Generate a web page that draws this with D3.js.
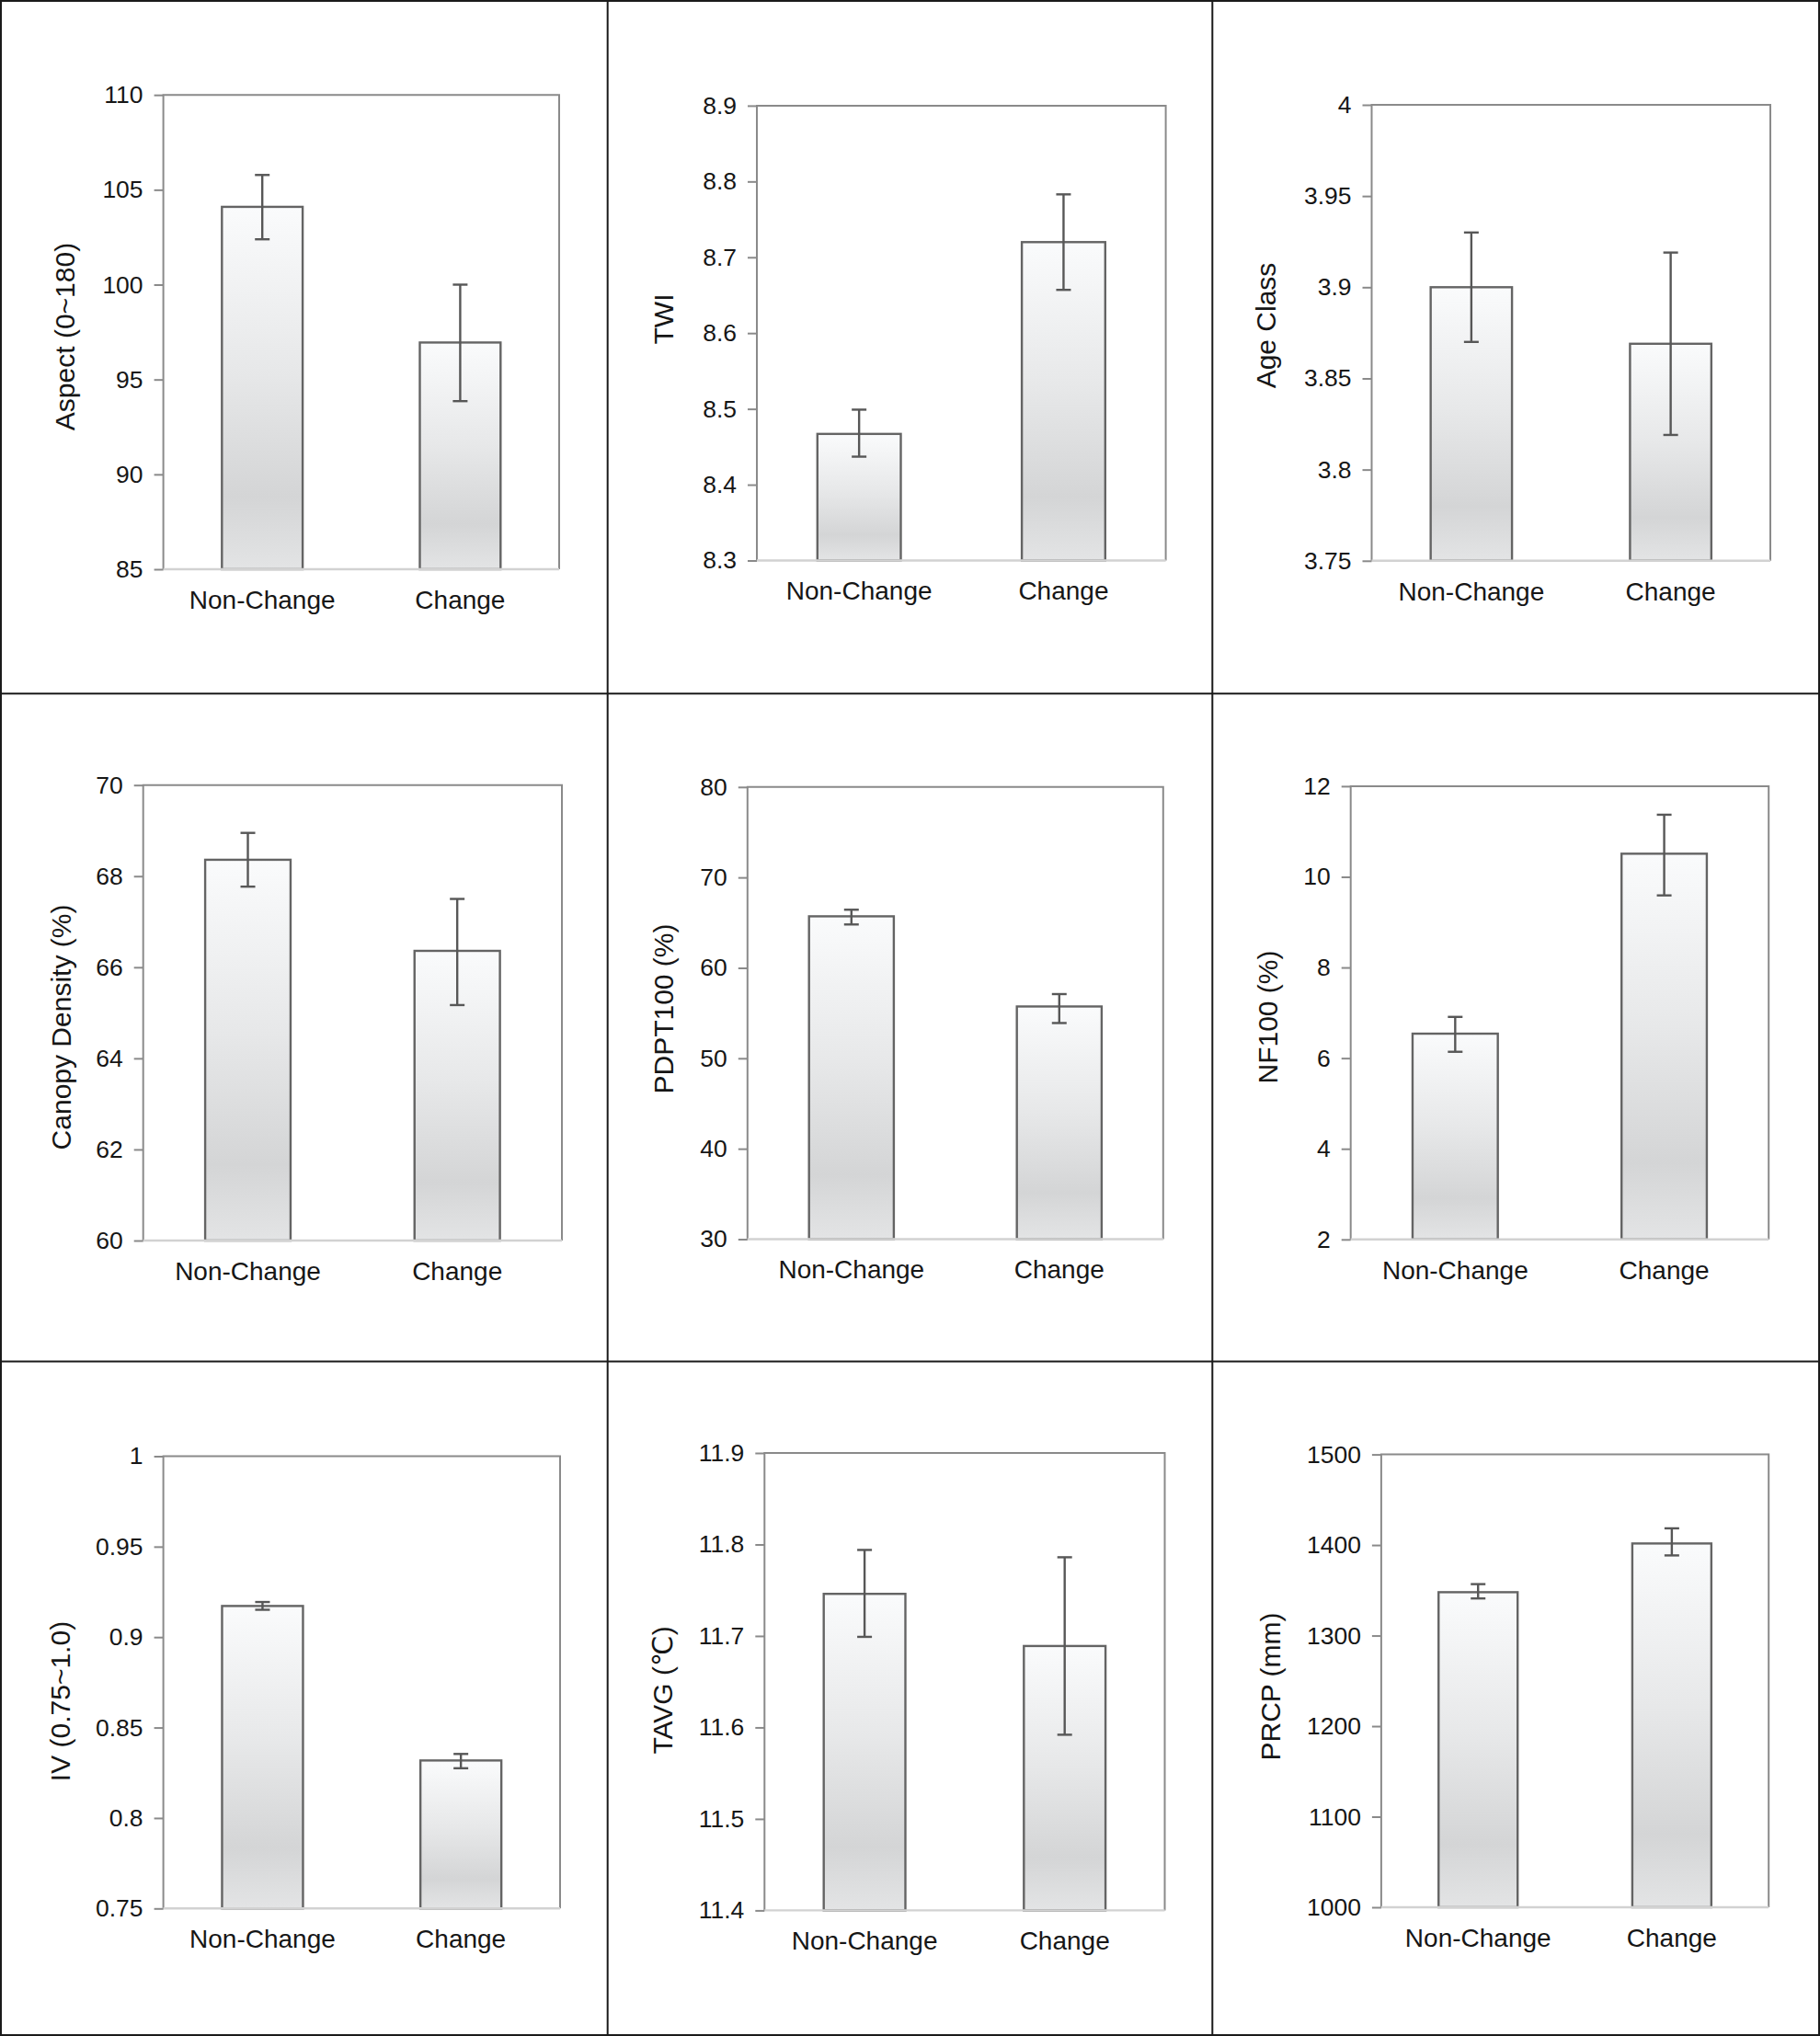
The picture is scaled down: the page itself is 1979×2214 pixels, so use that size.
<!DOCTYPE html>
<html>
<head>
<meta charset="utf-8">
<script src="https://cdn.jsdelivr.net/npm/d3@7"></script>
<style>
  html, body { margin: 0; padding: 0; background: #fff; }
  svg { display: block; }
  text { font-family: "Liberation Sans", Arial, "DejaVu Sans", sans-serif; fill: #161616; }
</style>
</head>
<body>
<svg id="chart" width="1979" height="2214"></svg>
<script>
// ---------------- DATA ----------------
const categories = ["Non-Change", "Change"];

const yTitles = [
  "Aspect (0~180)", "TWI", "Age Class",
  "Canopy Density (%)", "PDPT100 (%)", "NF100 (%)",
  "IV (0.75~1.0)", "TAVG (\u2103)", "PRCP (mm)"
];

// mean values [Non-Change, Change]
const means = [
  [104.1, 96.95],
  [8.467, 8.72],
  [3.90, 3.869],
  [68.36, 66.36],
  [65.7, 55.73],
  [6.54, 10.51],
  [0.9172, 0.8318],
  [11.746, 11.689],
  [1347.9, 1401.7]
];

// upper ends of error bars
const errHigh = [
  [105.78, 100.0],
  [8.499, 8.783],
  [3.93, 3.919],
  [68.95, 67.50],
  [66.43, 57.1],
  [6.91, 11.37],
  [0.9194, 0.8354],
  [11.794, 11.786],
  [1356.8, 1418.4]
];

// lower ends of error bars
const errLow = [
  [102.39, 93.86],
  [8.437, 8.657],
  [3.87, 3.819],
  [67.77, 65.17],
  [64.8, 53.9],
  [6.14, 9.59],
  [0.9151, 0.8275],
  [11.699, 11.592],
  [1341.0, 1388.5]
];

const yDomains = [
  [85, 110], [8.3, 8.9], [3.75, 4],
  [60, 70], [30, 80], [2, 12],
  [0.75, 1], [11.4, 11.9], [1000, 1500]
];

const yTickValues = [
  [85, 90, 95, 100, 105, 110],
  [8.3, 8.4, 8.5, 8.6, 8.7, 8.8, 8.9],
  [3.75, 3.8, 3.85, 3.9, 3.95, 4],
  [60, 62, 64, 66, 68, 70],
  [30, 40, 50, 60, 70, 80],
  [2, 4, 6, 8, 10, 12],
  [0.75, 0.8, 0.85, 0.9, 0.95, 1],
  [11.4, 11.5, 11.6, 11.7, 11.8, 11.9],
  [1000, 1100, 1200, 1300, 1400, 1500]
];

const yTickLabels = [
  ["85", "90", "95", "100", "105", "110"],
  ["8.3", "8.4", "8.5", "8.6", "8.7", "8.8", "8.9"],
  ["3.75", "3.8", "3.85", "3.9", "3.95", "4"],
  ["60", "62", "64", "66", "68", "70"],
  ["30", "40", "50", "60", "70", "80"],
  ["2", "4", "6", "8", "10", "12"],
  ["0.75", "0.8", "0.85", "0.9", "0.95", "1"],
  ["11.4", "11.5", "11.6", "11.7", "11.8", "11.9"],
  ["1000", "1100", "1200", "1300", "1400", "1500"]
];

// ---------------- LAYOUT (positions only) ----------------
// plot rectangles [left, top, right, bottom] and y-title anchor [baselineX, centerY]
const plotRects = [
  [177.6, 103.2, 608.0, 619.0],
  [823.0, 114.9, 1267.6, 609.5],
  [1491.5, 114.0, 1925.0, 609.8],
  [155.7, 853.7, 611.0, 1349.0],
  [812.8, 855.8, 1264.8, 1347.5],
  [1468.7, 854.9, 1923.2, 1347.8],
  [177.6, 1583.5, 609.0, 2075.3],
  [831.3, 1580.0, 1266.5, 2077.4],
  [1501.9, 1581.6, 1923.2, 2074.0]
];
const titleAnchors = [
  [81, 366], [732, 347], [1387, 354],
  [77, 1117], [732, 1097], [1389, 1106],
  [76, 1850], [731, 1838], [1392, 1834]
];

// ---------------- DRAW ----------------
const W = 1979, H = 2214;
const svg = d3.select("#chart");
svg.append("rect").attr("width", W).attr("height", H).attr("fill", "#fff");

const defs = svg.append("defs");
const grad = defs.append("linearGradient")
  .attr("id", "barGrad").attr("x1", 0).attr("y1", 0).attr("x2", 0).attr("y2", 1);
[["0%", "#fafbfc"], ["45%", "#e7e8e9"], ["80%", "#d4d5d6"], ["100%", "#e3e4e5"]]
  .forEach(([o, c]) => grad.append("stop").attr("offset", o).attr("stop-color", c));

// panel grid lines
const gridX = [660.7, 1318.3];
const gridY = [754.3, 1480.6];
const gridG = svg.append("g").attr("stroke", "#1a1a1a").attr("stroke-width", 2);
gridX.forEach(x => gridG.append("line").attr("x1", x).attr("x2", x).attr("y1", 0).attr("y2", H));
gridY.forEach(y => gridG.append("line").attr("x1", 0).attr("x2", W).attr("y1", y).attr("y2", y));
svg.append("rect").attr("x", 1).attr("y", 1).attr("width", W - 2).attr("height", H - 2)
  .attr("fill", "none").attr("stroke", "#1a1a1a").attr("stroke-width", 2);

means.forEach((vals, i) => {
  const [l, t, r, b] = plotRects[i];
  const g = svg.append("g").attr("transform", `translate(${l},${t})`);
  const w = r - l, h = b - t;

  const x = d3.scaleBand().domain(categories).range([0, w])
    .paddingInner(0.592).paddingOuter(0.296);
  const y = d3.scaleLinear().domain(yDomains[i]).range([h, 0]);

  // plot frame (left, top, right)
  g.append("path")
    .attr("d", `M0,${h}V0H${w}V${h}`)
    .attr("fill", "none").attr("stroke", "#8a8a8a").attr("stroke-width", 2);

  // bars
  g.selectAll("rect.bar").data(vals).join("rect")
    .attr("class", "bar")
    .attr("x", (d, j) => x(categories[j]))
    .attr("y", d => y(d))
    .attr("width", x.bandwidth())
    .attr("height", d => h - y(d))
    .attr("fill", "url(#barGrad)")
    .attr("stroke", "#646464").attr("stroke-width", 2.4);

  // bottom axis line (light)
  g.append("line").attr("x1", 0).attr("x2", w).attr("y1", h).attr("y2", h)
    .attr("stroke", "#d2d2d2").attr("stroke-width", 2.4);

  // error bars
  const cap = 8;
  const eg = g.append("g").attr("stroke", "#575757").attr("stroke-width", 2.4).attr("fill", "none");
  categories.forEach((c, j) => {
    const cx = x(c) + x.bandwidth() / 2;
    const yh = y(errHigh[i][j]), yl = y(errLow[i][j]);
    eg.append("line").attr("x1", cx).attr("x2", cx).attr("y1", yh).attr("y2", yl);
    eg.append("line").attr("x1", cx - cap).attr("x2", cx + cap).attr("y1", yh).attr("y2", yh);
    eg.append("line").attr("x1", cx - cap).attr("x2", cx + cap).attr("y1", yl).attr("y2", yl);
  });

  // y axis
  const labels = yTickLabels[i];
  const ticks = yTickValues[i];
  const ya = d3.axisLeft(y).tickValues(ticks)
    .tickFormat((d, k) => labels[k]).tickSize(10).tickPadding(12);
  const yg = g.append("g").call(ya);
  yg.select(".domain").remove();
  yg.selectAll(".tick line").attr("stroke", "#8a8a8a").attr("stroke-width", 2);
  yg.selectAll(".tick text").attr("font-size", 26.5).attr("fill", "#161616")
    .attr("font-family", '"Liberation Sans", Arial, sans-serif');

  // x axis labels
  const xa = d3.axisBottom(x).tickSize(0).tickPadding(23);
  const xg = g.append("g").attr("transform", `translate(0,${h})`).call(xa);
  xg.select(".domain").remove();
  xg.selectAll(".tick text").attr("font-size", 28).attr("fill", "#161616")
    .attr("font-family", '"Liberation Sans", Arial, sans-serif');

  // y title
  const [tx, ty] = titleAnchors[i];
  svg.append("text")
    .attr("transform", `translate(${tx},${ty}) rotate(-90)`)
    .attr("text-anchor", "middle")
    .attr("font-size", 30)
    .attr("fill", "#1c1c1c")
    .text(yTitles[i]);
});
</script>
</body>
</html>
